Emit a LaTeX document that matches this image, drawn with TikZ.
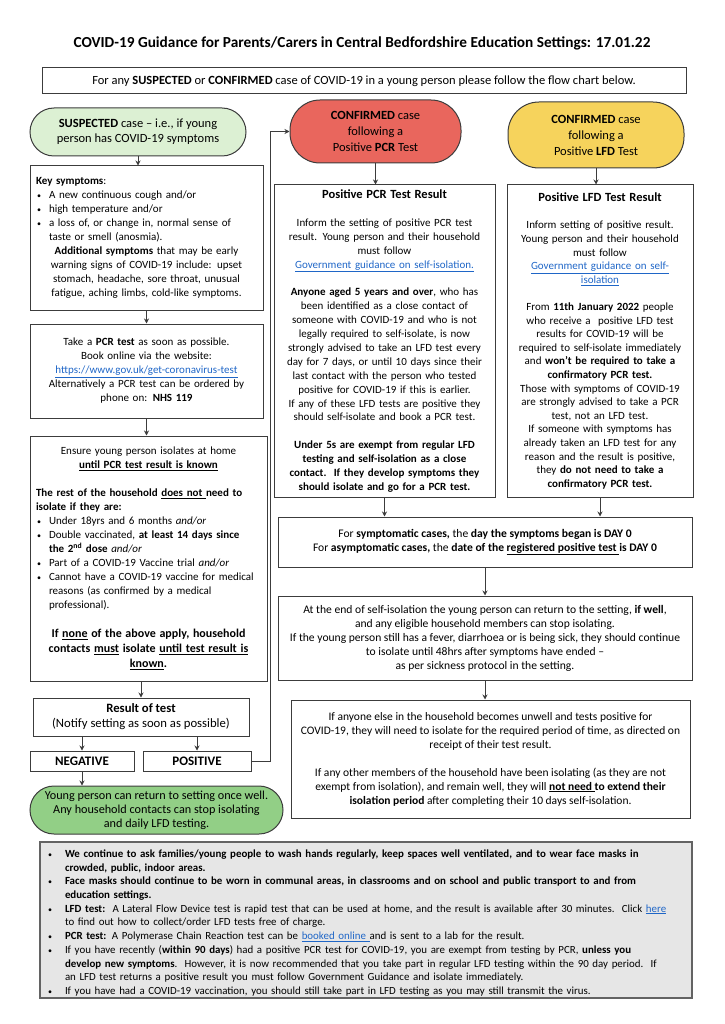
\documentclass[tikz,border=0pt]{standalone}
\usepackage{fontspec}
\setmainfont{Carlito}
\usetikzlibrary{arrows.meta, positioning}
\definecolor{LineGrey}{HTML}{3C3C3C}
\definecolor{LinkBlue}{HTML}{1F66C7}
\definecolor{PaleGreen}{HTML}{DCF0D3}
\definecolor{MidGreen}{HTML}{92CF86}
\definecolor{PcrRed}{HTML}{E9665D}
\definecolor{LfdYellow}{HTML}{F6D35C}
\definecolor{NoteGrey}{HTML}{E6E6E6}
\newcommand{\lnk}[1]{\textcolor{LinkBlue}{\underline{#1}}}
\newcommand{\bitem}[2][13pt]{\par\hangindent=#1\hangafter=1\noindent\makebox[#1][l]{\hspace{1pt}{\fontsize{8}{8}\selectfont\textbullet}}#2\par}

\begin{document}
\begin{tikzpicture}[x=1pt, y=-1pt,
    box/.style={draw=LineGrey, line width=1pt, inner xsep=6pt, inner ysep=2pt, font=\fontsize{11}{14}\selectfont},
    stadium/.style={box, align=center, inner xsep=2pt, font=\fontsize{12.5}{15}\selectfont},
    tag/.style={box, font=\fontsize{13}{15}\selectfont\bfseries, inner sep=0pt},
    arr/.style={-{Stealth[length=5pt, width=5pt]}, line width=1pt, draw=LineGrey}]
    \useasboundingbox (0,0) rectangle (724,1024);

    % Title and intro
    \node[font=\fontsize{15.3}{18}\selectfont\bfseries] (title) at (362,43) {COVID-19 Guidance for Parents/Carers in Central Bedfordshire Education Settings: 17.01.22};
    \node[box, font=\fontsize{12.5}{15}\selectfont, minimum width=644pt, minimum height=26pt] (intro) at (364,81) {For any \textbf{SUSPECTED} or \textbf{CONFIRMED} case of COVID-19 in a young person please follow the flow chart below.};

    % Suspected case (left column)
    \node[stadium, fill=PaleGreen, rounded corners=24pt, minimum width=216pt, minimum height=48pt] (susp) at (138,132) {\textbf{SUSPECTED} case -- i.e., if young\\person has COVID-19 symptoms};
    \node[box, minimum width=233pt, minimum height=144pt, text width=221pt] (sympt) at (146.5,238) {%
        {\raggedright\textbf{Key symptoms}:\par
        \bitem{A new continuous cough and/or}
        \bitem{high temperature and/or}
        \bitem{a loss of, or change in, normal sense of\newline taste or smell (anosmia).}}
        {\centering\textbf{Additional symptoms} that may be early\\warning signs of COVID-19 include: upset\\stomach, headache, sore throat, unusual\\fatigue, aching limbs, cold-like symptoms.\par}};
    \node[box, align=center, minimum width=233pt, minimum height=94pt, text width=221pt] (book) at (146.5,371) {Take a \textbf{PCR test} as soon as possible.\\Book online via the website:\\\lnk{https://www.gov.uk/get-coronavirus-test}\\Alternatively a PCR test can be ordered by\\phone on: \textbf{NHS 119}};
    \node[box, minimum width=237pt, minimum height=245pt, text width=225pt] (isol) at (148.5,558.5) {%
        {\centering Ensure young person isolates at home\\\textbf{\underline{until PCR test result is known}}\par}
        \vskip 14pt
        {\raggedright\textbf{The rest of the household \underline{does not }need to\\isolate if they are:}\par
        \bitem{Under 18yrs and 6 months \textit{and/or}}
        \bitem{Double vaccinated, \textbf{at least 14 days since}\newline\textbf{the 2\textsuperscript{nd} dose} \textit{and/or}}
        \bitem{Part of a COVID-19 Vaccine trial \textit{and/or}}
        \bitem{Cannot have a COVID-19 vaccine for medical\newline reasons (as confirmed by a medical\newline professional).}}
        \vskip 14pt
        {\centering\fontsize{12}{15}\selectfont\bfseries If \underline{none} of the above apply, household\\contacts \underline{must} isolate \underline{until test result is}\\\underline{known}.\par}};
    \node[box, align=center, font=\fontsize{12.7}{15}\selectfont, inner sep=0pt, minimum width=216pt, minimum height=38pt] (result) at (141,717) {\textbf{Result of test}\\(Notify setting as soon as possible)};
    \node[tag, minimum width=104pt, minimum height=20pt] (neg) at (82,761) {NEGATIVE};
    \node[tag, minimum width=108pt, minimum height=20pt] (pos) at (197,761) {POSITIVE};
    \node[stadium, fill=MidGreen, rounded corners=24pt, font=\fontsize{12.2}{14}\selectfont, inner ysep=1pt, minimum width=253pt, minimum height=48pt] (back) at (156.5,810) {Young person can return to setting once well.\\Any household contacts can stop isolating\\and daily LFD testing.};

    % Confirmed by PCR (middle column)
    \node[stadium, fill=PcrRed, rounded corners=30pt, font=\fontsize{12.5}{16}\selectfont, minimum width=171pt, minimum height=63pt] (red) at (375.5,131.5) {\textbf{CONFIRMED} case\\following a\\Positive \textbf{PCR} Test};
    \node[box, align=center, inner xsep=2pt, minimum width=221pt, minimum height=312pt, text width=217pt, font=\fontsize{11}{13.9}\selectfont] (pcrres) at (384.5,341) {%
        {\fontsize{12.5}{13.9}\selectfont\textbf{Positive PCR Test Result}}\\[13.9pt]
        Inform the setting of positive PCR test\\result. Young person and their household\\must follow\\\lnk{Government guidance on self-isolation.}\\[13.9pt]
        \textbf{Anyone aged 5 years and over}, who has\\been identified as a close contact of\\someone with COVID-19 and who is not\\legally required to self-isolate, is now\\strongly advised to take an LFD test every\\day for 7 days, or until 10 days since their\\last contact with the person who tested\\positive for COVID-19 if this is earlier.\\If any of these LFD tests are positive they\\should self-isolate and book a PCR test.\\[13.9pt]
        \textbf{Under 5s are exempt from regular LFD}\\\textbf{testing and self-isolation as a close}\\\textbf{contact.\ \ If they develop symptoms they}\\\textbf{should isolate and go for a PCR test.}};

    % Confirmed by LFD (right column)
    \node[stadium, fill=LfdYellow, rounded corners=31pt, font=\fontsize{12.5}{16}\selectfont, minimum width=176pt, minimum height=66pt] (yellow) at (596,135) {\textbf{CONFIRMED} case\\following a\\Positive \textbf{LFD} Test};
    \node[box, align=center, inner xsep=2pt, minimum width=186pt, minimum height=312pt, text width=182pt, font=\fontsize{11}{13.6}\selectfont] (lfdres) at (600,341) {%
        {\fontsize{12.5}{13.6}\selectfont\textbf{Positive LFD Test Result}}\\[13.6pt]
        Inform setting of positive result.\\Young person and their household\\must follow\\\lnk{Government guidance on self-}\\\lnk{isolation}\\[13.6pt]
        From \textbf{11th January 2022} people\\who receive a\ \ positive LFD test\\results for COVID-19 will be\\required to self-isolate immediately\\and \textbf{won't be required to take a}\\\textbf{confirmatory PCR test.}\\Those with symptoms of COVID-19\\are strongly advised to take a PCR\\test, not an LFD test.\\If someone with symptoms has\\already taken an LFD test for any\\reason and the result is positive,\\they \textbf{do not need to take a}\\\textbf{confirmatory PCR test.}};

    % Shared steps
    \node[box, align=center, font=\fontsize{11.6}{14}\selectfont, minimum width=414pt, minimum height=50pt] (day0) at (485,542) {For \textbf{symptomatic cases,} the \textbf{day the symptoms began is DAY 0}\\For \textbf{asymptomatic cases,} the \textbf{date of the \underline{registered positive test }is DAY 0}};
    \node[box, align=center, font=\fontsize{11.6}{14}\selectfont, minimum width=414pt, minimum height=84pt] (endiso) at (485,638) {At the end of self-isolation the young person can return to the setting, \textbf{if well},\\and any eligible household members can stop isolating.\\If the young person still has a fever, diarrhoea or is being sick, they should continue\\to isolate until 48hrs after symptoms have ended --\\as per sickness protocol in the setting.};
    \node[box, align=center, font=\fontsize{11.5}{14}\selectfont, minimum width=399pt, minimum height=118pt] (anyone) at (490.5,759) {If anyone else in the household becomes unwell and tests positive for\\COVID-19, they will need to isolate for the required period of time, as directed on\\receipt of their test result.\\[14pt]
        If any other members of the household have been isolating (as they are not\\exempt from isolation), and remain well, they will \textbf{\underline{not need }to extend their}\\\textbf{isolation period} after completing their 10 days self-isolation.};

    % Notes
    \node[draw=LineGrey!80, line width=2pt, fill=NoteGrey, inner xsep=7pt, inner ysep=2pt, minimum width=652pt, minimum height=156pt, text width=638pt, font=\fontsize{10.9}{13.7}\selectfont] (notes) at (366,920) {%
        \raggedright
        \bitem[18pt]{\textbf{We continue to ask families/young people to wash hands regularly, keep spaces well ventilated, and to wear face masks in}\newline\textbf{crowded, public, indoor areas.}}
        \bitem[18pt]{\textbf{Face masks should continue to be worn in communal areas, in classrooms and on school and public transport to and from}\newline\textbf{education settings.}}
        \bitem[18pt]{\textbf{LFD test:}\ \ A Lateral Flow Device test is rapid test that can be used at home, and the result is available after 30 minutes.\ \ Click \lnk{here}\newline to find out how to collect/order LFD tests free of charge.}
        \bitem[18pt]{\textbf{PCR test:} A Polymerase Chain Reaction test can be \lnk{booked online }and is sent to a lab for the result.}
        \bitem[18pt]{If you have recently (\textbf{within 90 days}) had a positive PCR test for COVID-19, you are exempt from testing by PCR, \textbf{unless you}\newline\textbf{develop new symptoms}.\ \ However, it is now recommended that you take part in regular LFD testing within the 90 day period.\ \ If\newline an LFD test returns a positive result you must follow Government Guidance and isolate immediately.}
        \bitem[18pt]{If you have had a COVID-19 vaccination, you should still take part in LFD testing as you may still transmit the virus.}};

    % Arrows
    \draw[arr] (susp.south) -- (susp.south |- sympt.north);
    \draw[arr] (sympt.south) -- (book.north);
    \draw[arr] (book.south) -- (book.south |- isol.north);
    \draw[arr] (result.north |- isol.south) -- (result.north);
    \draw[arr] (neg.north |- result.south) -- (neg.north);
    \draw[arr] (pos.north |- result.south) -- (pos.north);
    \draw[arr] (neg.south) -- (neg.south |- back.north);
    \draw[arr] (pos.east) -- ++(19,0) |- (red.west);
    \draw[arr] (red.south) -- (red.south |- pcrres.north);
    \draw[arr] (yellow.south) -- (yellow.south |- lfdres.north);
    \draw[arr] (pcrres.south) -- (pcrres.south |- day0.north);
    \draw[arr] (lfdres.south) -- (lfdres.south |- day0.north);
    \draw[arr] (day0.south) -- (endiso.north);
    \draw[arr] (endiso.south) -- (endiso.south |- anyone.north);
\end{tikzpicture}
\end{document}
